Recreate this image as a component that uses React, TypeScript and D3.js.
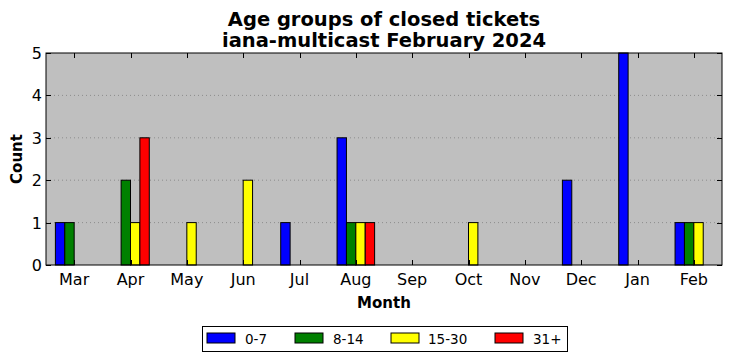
import React, { useRef, useEffect } from 'react';
import * as d3 from 'd3';

const months = ['Mar', 'Apr', 'May', 'Jun', 'Jul', 'Aug', 'Sep', 'Oct', 'Nov', 'Dec', 'Jan', 'Feb'];
const groups = ['0-7', '8-14', '15-30', '31+'];
const colors = ['#0000ff', '#008000', '#ffff00', '#ff0000'];
const age0to7 = [1, 0, 0, 0, 1, 3, 0, 0, 0, 2, 5, 1];
const age8to14 = [1, 2, 0, 0, 0, 1, 0, 0, 0, 0, 0, 1];
const age15to30 = [0, 1, 1, 2, 0, 1, 0, 1, 0, 0, 0, 1];
const age31plus = [0, 3, 0, 0, 0, 1, 0, 0, 0, 0, 0, 0];
const yTicks = [0, 1, 2, 3, 4, 5];

function App() {
  const svgRef = useRef(null);
  useEffect(() => {
    const w = 732;
    const h = 361;
    const left = 46, right = 722, top = 53, bottom = 265;
    const font = 'DejaVu Sans, sans-serif';
    const svg = d3.select(svgRef.current)
      .attr('width', w)
      .attr('height', h)
      .style('position', 'absolute')
      .style('left', '0')
      .style('top', '0')
      .style('background', '#ffffff');
    svg.selectAll('*').remove();

    const x = d3.scaleLinear().domain([-0.5, 11.5]).range([left, right]);
    const y = d3.scaleLinear().domain([0, 5]).range([bottom, top]);
    const bw = 1 / 6;
    const series = [age0to7, age8to14, age15to30, age31plus];

    svg.append('rect')
      .attr('x', left).attr('y', top)
      .attr('width', right - left).attr('height', bottom - top)
      .attr('fill', '#bfbfbf');

    // grid
    svg.append('g').selectAll('line')
      .data(yTicks.slice(1, -1))
      .join('line')
      .attr('x1', left).attr('x2', right)
      .attr('y1', d => y(d)).attr('y2', d => y(d))
      .attr('stroke', '#808080')
      .attr('stroke-width', 0.8)
      .attr('stroke-dasharray', '1,3');

    // bars
    series.forEach((vals, s) => {
      svg.append('g').selectAll('rect')
        .data(vals)
        .join('rect')
        .attr('x', (d, i) => x(i + (s - 2) * bw))
        .attr('width', x(bw) - x(0))
        .attr('y', d => y(d))
        .attr('height', d => y(0) - y(d))
        .attr('fill', colors[s])
        .attr('stroke', '#000')
        .attr('stroke-width', 1);
    });

    // ticks inward
    const tickG = svg.append('g').attr('stroke', '#000').attr('stroke-width', 1);
    months.forEach((m, i) => {
      const xx = Math.round(x(i)) + 0.5;
      tickG.append('line').attr('x1', xx).attr('x2', xx).attr('y1', bottom).attr('y2', bottom - 5);
      tickG.append('line').attr('x1', xx).attr('x2', xx).attr('y1', top).attr('y2', top + 5);
    });
    yTicks.forEach(t => {
      const yy = Math.round(y(t)) + 0.5;
      tickG.append('line').attr('x1', left).attr('x2', left + 5).attr('y1', yy).attr('y2', yy);
      tickG.append('line').attr('x1', right).attr('x2', right - 5).attr('y1', yy).attr('y2', yy);
    });

    svg.append('rect')
      .attr('x', left).attr('y', top)
      .attr('width', right - left).attr('height', bottom - top)
      .attr('fill', 'none')
      .attr('stroke', '#000')
      .attr('stroke-width', 1);

    // tick labels
    svg.append('g').selectAll('text')
      .data(months)
      .join('text')
      .attr('x', (d, i) => x(i))
      .attr('y', bottom + 20)
      .attr('text-anchor', 'middle')
      .attr('font-family', font)
      .attr('font-size', 16)
      .text(d => d);
    svg.append('g').selectAll('text')
      .data(yTicks)
      .join('text')
      .attr('x', left - 4)
      .attr('y', d => y(d) + 6)
      .attr('text-anchor', 'end')
      .attr('font-family', font)
      .attr('font-size', 16)
      .text(d => String(d));

    // labels
    svg.append('text')
      .attr('x', (left + right) / 2).attr('y', 308)
      .attr('text-anchor', 'middle')
      .attr('font-family', font).attr('font-size', 15).attr('font-weight', 'bold')
      .text('Month');
    svg.append('text')
      .attr('transform', `translate(22, ${(top + bottom) / 2}) rotate(-90)`)
      .attr('text-anchor', 'middle')
      .attr('font-family', font).attr('font-size', 15).attr('font-weight', 'bold')
      .text('Count');

    // title
    const title = svg.append('text')
      .attr('text-anchor', 'middle')
      .attr('font-family', font).attr('font-size', 19.5).attr('font-weight', 'bold');
    title.append('tspan').attr('x', (left + right) / 2).attr('y', 26).text('Age groups of closed tickets');
    title.append('tspan').attr('x', (left + right) / 2).attr('y', 47).text('iana-multicast February 2024');

    // legend
    const lg = svg.append('g');
    lg.append('rect')
      .attr('x', 202.5).attr('y', 326.5).attr('width', 365).attr('height', 25)
      .attr('fill', '#fff').attr('stroke', '#000').attr('stroke-width', 1);
    const patchX = [207, 295, 391, 495];
    const labelX = [245, 333, 428, 533];
    groups.forEach((g, i) => {
      lg.append('rect')
        .attr('x', patchX[i]).attr('y', 333).attr('width', 28).attr('height', 10)
        .attr('fill', colors[i]).attr('stroke', '#000').attr('stroke-width', 1);
      lg.append('text')
        .attr('x', labelX[i]).attr('y', 343.5)
        .attr('font-family', font).attr('font-size', 13.5)
        .text(g);
    });
  }, []);
  return (
    <div>
      <svg ref={svgRef}></svg>
    </div>
  );
}

export default App;
